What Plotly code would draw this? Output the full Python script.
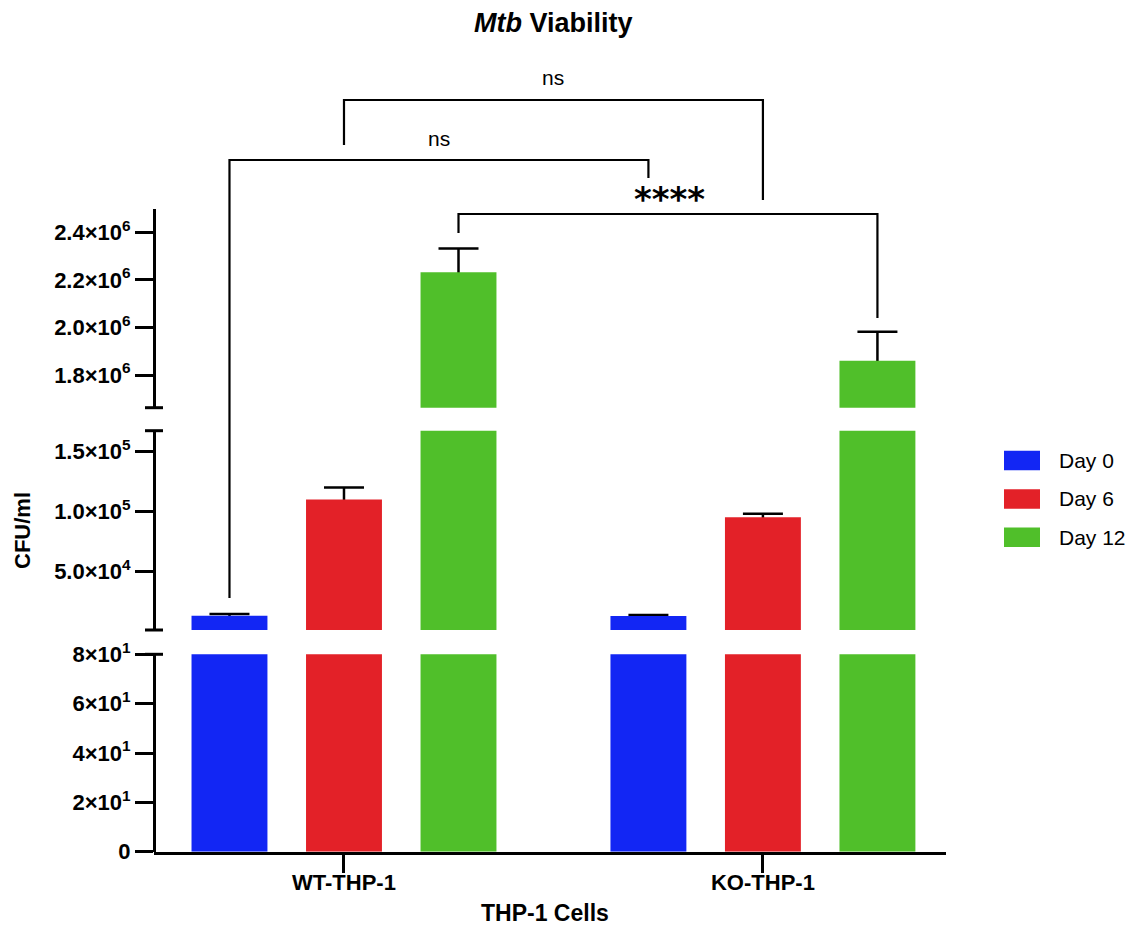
import plotly.graph_objects as go

# ---- data ----
cells = ["WT-THP-1", "KO-THP-1"]
days = ["Day 0", "Day 6", "Day 12"]
cfu_mean = {
    "Day 0": [12500, 12300],
    "Day 6": [110000, 95000],
    "Day 12": [2232000, 1860000],
}
cfu_sd = {
    "Day 0": [1600, 800],
    "Day 6": [10000, 3000],
    "Day 12": [100000, 122000],
}
colors = {"Day 0": "#1226F4", "Day 6": "#E32128", "Day 12": "#50BF2A"}

# broken y axis: three segments (bottom, middle, top)
seg_ranges = [[0, 80], [600, 167600], [1662600, 2496600]]
seg_tickvals = [
    [0, 20, 40, 60, 80],
    [50000, 100000, 150000],
    [1800000, 2000000, 2200000, 2400000],
]
seg_ticktext = [
    ["0", "2×10<sup>1</sup>", "4×10<sup>1</sup>", "6×10<sup>1</sup>", "8×10<sup>1</sup>"],
    ["5.0×10<sup>4</sup>", "1.0×10<sup>5</sup>", "1.5×10<sup>5</sup>"],
    ["1.8×10<sup>6</sup>", "2.0×10<sup>6</sup>", "2.2×10<sup>6</sup>", "2.4×10<sup>6</sup>"],
]

W, H = 1143, 930
FONT = "Liberation Sans, Arial, Helvetica, sans-serif"


def fx(p):
    return p / W


def fy(p):
    return 1 - p / H


# segment extents in pixels (top, bottom)
seg_px = [(654.3, 851.7), (430.7, 630.0), (209.3, 407.7)]
x_left_px, x_right_px = 154, 946

fig = go.Figure()
yaxes = ["y", "y2", "y3"]
for yname in yaxes:
    # first pass: transparent bars carrying the SD whiskers
    for k, d in enumerate(days):
        fig.add_trace(go.Bar(
            x=cells, y=cfu_mean[d], name=d, offsetgroup=str(k),
            marker=dict(color="rgba(0,0,0,0)", line=dict(width=0)),
            error_y=dict(type="data", array=cfu_sd[d], visible=True,
                         color="black", thickness=2.5, width=20),
            xaxis="x", yaxis=yname, showlegend=False, hoverinfo="skip",
        ))
    # second pass: coloured bars drawn over the lower half of the whiskers
    for k, d in enumerate(days):
        fig.add_trace(go.Bar(
            x=cells, y=cfu_mean[d], name=d, offsetgroup=str(k),
            marker=dict(color=colors[d], line=dict(width=0)),
            xaxis="x", yaxis=yname, showlegend=False,
        ))

axis_common = dict(
    showline=True, linecolor="black", linewidth=3,
    ticks="outside", ticklen=18, tickwidth=3, tickcolor="black",
    showgrid=False, zeroline=False, automargin=False,
    tickfont=dict(family=FONT, size=22, color="black", weight="bold"),
    anchor="free", position=fx(x_left_px),
)

layout_axes = {}
for i, (rng, tv, tt) in enumerate(zip(seg_ranges, seg_tickvals, seg_ticktext)):
    top, bot = seg_px[i]
    key = "yaxis" if i == 0 else f"yaxis{i + 1}"
    layout_axes[key] = dict(axis_common, range=rng, tickvals=tv, ticktext=tt,
                            domain=[fy(bot), fy(top)])

# x range chosen so group centres sit under the ticks
fig.update_layout(
    width=W, height=H,
    margin=dict(l=0, r=0, t=0, b=0, pad=0),
    paper_bgcolor="white", plot_bgcolor="white",
    barmode="group", bargap=0.18, bargroupgap=0.337,
    xaxis=dict(
        domain=[fx(x_left_px), fx(x_right_px)],
        range=[-0.4535, 1.437],
        showline=True, linecolor="black", linewidth=3,
        ticks="outside", ticklen=18, tickwidth=3, tickcolor="black",
        ticklabelstandoff=-9,
        showgrid=False, zeroline=False, anchor="y", automargin=False,
        tickfont=dict(family=FONT, size=22, color="black", weight="bold"),
    ),
    **layout_axes,
)

shapes = []
# caps at the broken-axis ends
cap_half = 9
for (top, bot), caps in zip(seg_px, [(True, False), (True, True), (False, True)]):
    for flag, yp in zip(caps, (top, bot)):
        if flag:
            shapes.append(dict(type="line", xref="paper", yref="paper",
                               x0=fx(x_left_px - cap_half), x1=fx(x_left_px + cap_half),
                               y0=fy(yp), y1=fy(yp),
                               line=dict(color="black", width=3)))

# significance brackets: (x of left bar, x of right bar, bar y, left leg end, right leg end)
slot = (1 - 0.18) / 3
brackets = [
    (0 - slot, 1 - slot, 160, 598, 178),
    (0, 1, 100, 145, 200),
    (0 + slot, 1 + slot, 214, 233, 318),
]
for xl, xr, yb, yl, yr in brackets:
    path = f"M {xl},{fy(yl)} L {xl},{fy(yb)} L {xr},{fy(yb)} L {xr},{fy(yr)}"
    shapes.append(dict(type="path", xref="x", yref="paper", path=path,
                       line=dict(color="black", width=2.2)))

annotations = [
    dict(text="<b><i>Mtb</i> Viability</b>", x=fx(553), y=fy(23), xref="paper", yref="paper",
         xanchor="center", yanchor="middle", showarrow=False,
         font=dict(family=FONT, size=27, color="black")),
    dict(text="<b>CFU/ml</b>", x=fx(22), y=fy(531), xref="paper", yref="paper",
         textangle=-90, xanchor="center", yanchor="middle", showarrow=False,
         font=dict(family=FONT, size=22, color="black")),
    dict(text="<b>THP-1 Cells</b>", x=fx(545), y=fy(913), xref="paper", yref="paper",
         xanchor="center", yanchor="middle", showarrow=False,
         font=dict(family=FONT, size=23, color="black")),
    dict(text="ns", x=(0 - slot + 1 - slot) / 2, y=fy(138), xref="x", yref="paper",
         yanchor="middle", showarrow=False, font=dict(family=FONT, size=21, color="black")),
    dict(text="ns", x=0.5, y=fy(78), xref="x", yref="paper",
         yanchor="middle", showarrow=False, font=dict(family=FONT, size=21, color="black")),
    dict(text="<b>****</b>", x=fx(669), y=fy(199), xref="paper", yref="paper",
         yanchor="middle", showarrow=False,
         font=dict(family="DejaVu Sans", size=34, color="black")),
]

# legend drawn as swatches with labels
legend_rows = [460.5, 499, 537.3]
for d, yc in zip(days, legend_rows):
    shapes.append(dict(type="rect", xref="paper", yref="paper",
                       x0=fx(1004), x1=fx(1040), y0=fy(yc + 9.8), y1=fy(yc - 9.8),
                       fillcolor=colors[d], line=dict(width=0)))
    annotations.append(dict(text=d, x=fx(1057), y=fy(yc), xref="paper", yref="paper",
                            xanchor="left", yanchor="middle", showarrow=False,
                            font=dict(family=FONT, size=21, color="black")))

fig.update_layout(shapes=shapes, annotations=annotations)
fig.write_html("out.html")
